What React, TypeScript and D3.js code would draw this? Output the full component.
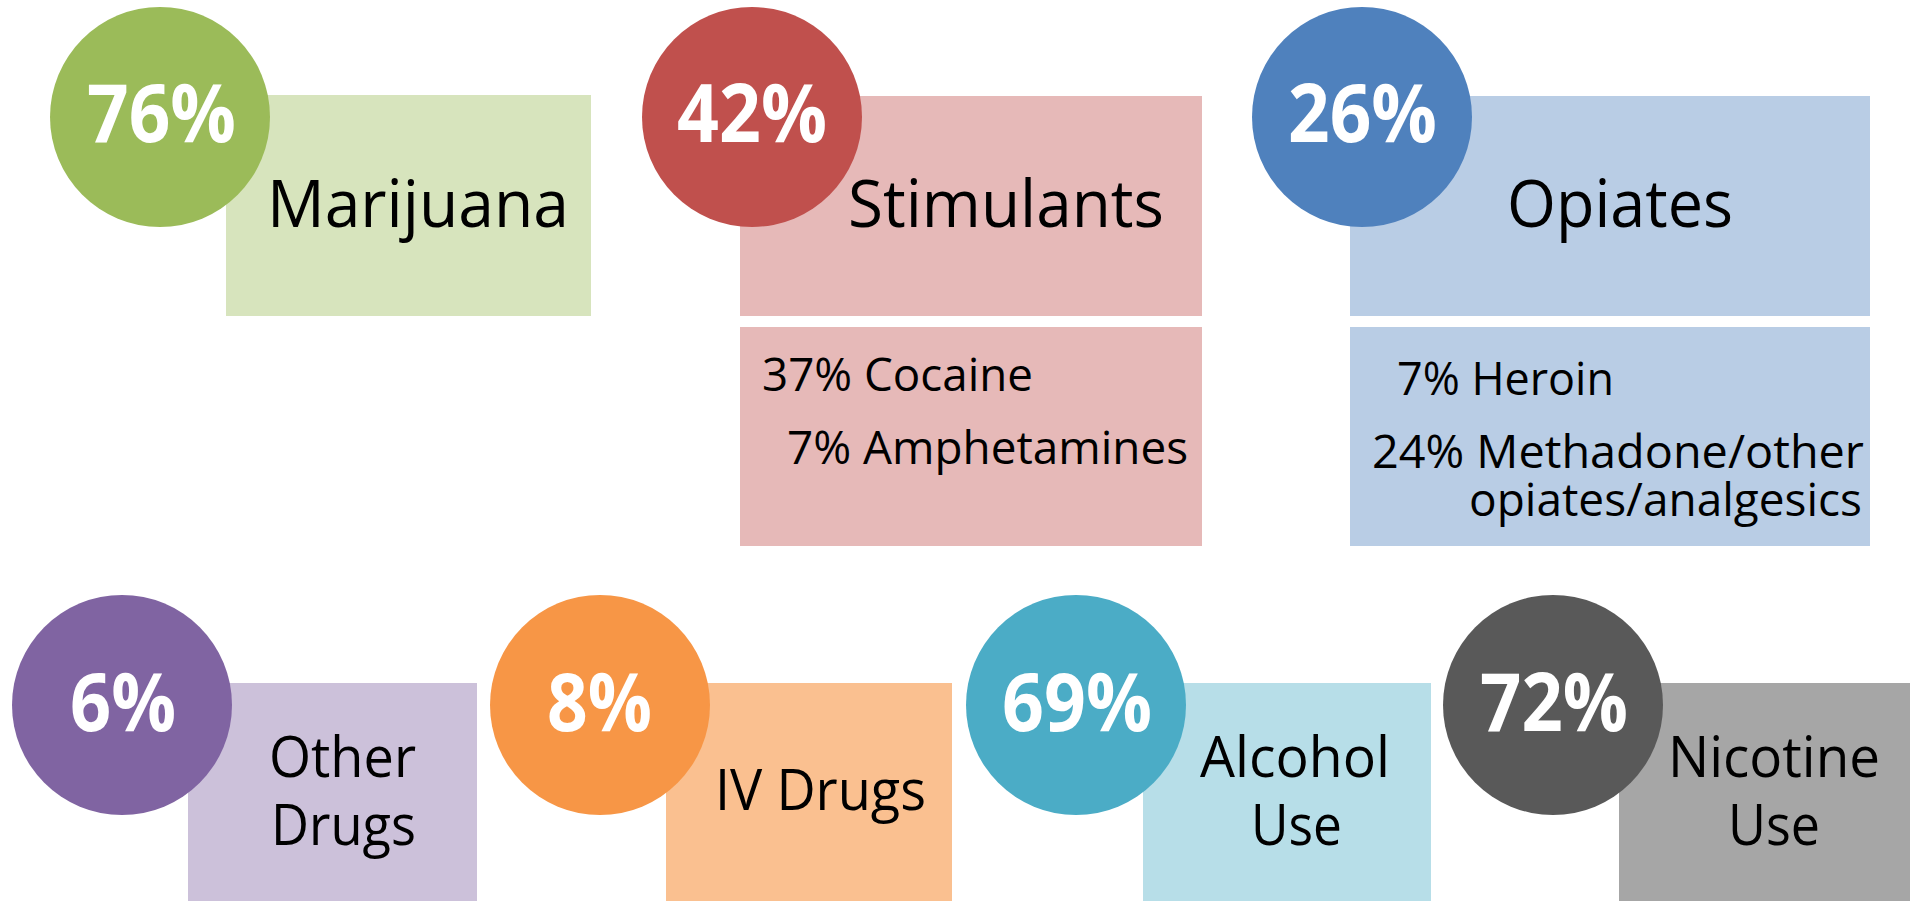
import React, { useEffect, useRef } from "react";
import * as d3 from "d3";

// ---- data ----
const topCategories = ["Marijuana", "Stimulants", "Opiates"];
const topPercents = [76, 42, 26];
const topCircleColors = ["#9BBB59", "#C0504D", "#4F81BD"];
const topBoxColors = ["#D7E4BD", "#E6B9B8", "#B9CDE5"];
const stimulantDetails = ["37% Cocaine", "7% Amphetamines"];
const opiateDetails = ["7% Heroin", "24% Methadone/other", "opiates/analgesics"];

const bottomCategories = [["Other", "Drugs"], ["IV Drugs"], ["Alcohol", "Use"], ["Nicotine", "Use"]];
const bottomPercents = [6, 8, 69, 72];
const bottomCircleColors = ["#8064A2", "#F79646", "#4BACC6", "#595959"];
const bottomBoxColors = ["#CCC1DA", "#FAC090", "#B7DEE8", "#A6A6A6"];

// ---- layout (positions/sizes, kept apart from data) ----
const W = 1910, H = 901, R = 110;
const topCircleX = [160, 752, 1362];
const topCircleY = 117;
const topBoxes = [[226, 95, 591, 316], [740, 96, 1202, 316], [1350, 96, 1870, 316]];
const topPctText = [[87, 236], [677, 827], [1288, 1437]];
const topPctBase = 142;
const topLabelText = [[267, 569], [848, 1164], [1507, 1733]];
const topLabelBase = 227;
const detailBoxY = [327, 546];
const stimDetailPos = [[762, 1033, 391], [787, 1188, 464]];
const opiDetailPos = [[1397, 1614, 395], [1372, 1864, 468], [1469, 1862, 516]];

const bottomCircleX = [122, 600, 1076, 1553];
const bottomCircleY = 705;
const bottomBoxes = [[188, 683, 477], [666, 683, 952], [1143, 683, 1431], [1619, 683, 1910]];
const bottomPctText = [[70, 176], [547, 652], [1002, 1152], [1480, 1628]];
const bottomPctBase = 731;
const bottomLabelPos = [
  [[269, 416, 777], [271, 416, 845]],
  [[715, 926, 810]],
  [[1200, 1390, 777], [1251, 1342, 845]],
  [[1668, 1880, 777], [1728, 1820, 845]],
];

const FONT = "'Open Sans', 'Noto Sans', sans-serif";

export default function App() {
  const ref = useRef<SVGSVGElement | null>(null);
  useEffect(() => {
    document.body.style.margin = "0";
    const svg = d3.select(ref.current);
    svg.selectAll("*").remove();
    svg.append("rect").attr("width", W).attr("height", H).attr("fill", "#fff");

    const txt = (g: any, s: string, x0: number, x1: number, y: number, size: number, color: string, weight: number) =>
      g.append("text")
        .attr("x", x0).attr("y", y)
        .attr("textLength", x1 - x0)
        .attr("lengthAdjust", "spacingAndGlyphs")
        .attr("font-family", FONT)
        .attr("font-size", size)
        .attr("font-weight", weight)
        .attr("fill", color)
        .text(s);

    // top row boxes
    topCategories.forEach((c, i) => {
      const [x0, y0, x1, y1] = topBoxes[i];
      svg.append("rect").attr("x", x0).attr("y", y0).attr("width", x1 - x0).attr("height", y1 - y0).attr("fill", topBoxColors[i]);
    });
    // detail boxes
    [1, 2].forEach((i) => {
      const [x0, , x1] = topBoxes[i];
      svg.append("rect").attr("x", x0).attr("y", detailBoxY[0]).attr("width", x1 - x0).attr("height", detailBoxY[1] - detailBoxY[0]).attr("fill", topBoxColors[i]);
    });
    topCategories.forEach((c, i) => {
      const [a, b] = topLabelText[i];
      txt(svg, c, a, b, topLabelBase, 66, "#000", 400);
    });
    stimulantDetails.forEach((s, j) => {
      const [a, b, y] = stimDetailPos[j];
      txt(svg, s, a, b, y, 46, "#000", 400);
    });
    opiateDetails.forEach((s, j) => {
      const [a, b, y] = opiDetailPos[j];
      txt(svg, s, a, b, y, 46, "#000", 400);
    });
    topPercents.forEach((p, i) => {
      svg.append("circle").attr("cx", topCircleX[i]).attr("cy", topCircleY).attr("r", R).attr("fill", topCircleColors[i]);
      const [a, b] = topPctText[i];
      txt(svg, `${p}%`, a, b, topPctBase, 81, "#fff", 700);
    });

    // bottom row
    bottomCategories.forEach((lines, i) => {
      const [x0, y0, x1] = bottomBoxes[i];
      svg.append("rect").attr("x", x0).attr("y", y0).attr("width", x1 - x0).attr("height", H - y0).attr("fill", bottomBoxColors[i]);
      lines.forEach((s, j) => {
        const [a, b, y] = bottomLabelPos[i][j];
        txt(svg, s, a, b, y, 56, "#000", 400);
      });
    });
    bottomPercents.forEach((p, i) => {
      svg.append("circle").attr("cx", bottomCircleX[i]).attr("cy", bottomCircleY).attr("r", R).attr("fill", bottomCircleColors[i]);
      const [a, b] = bottomPctText[i];
      txt(svg, `${p}%`, a, b, bottomPctBase, 81, "#fff", 700);
    });
  }, []);
  return <svg ref={ref} width={W} height={H} style={{ position: "absolute", left: 0, top: 0, display: "block" }} />;
}
